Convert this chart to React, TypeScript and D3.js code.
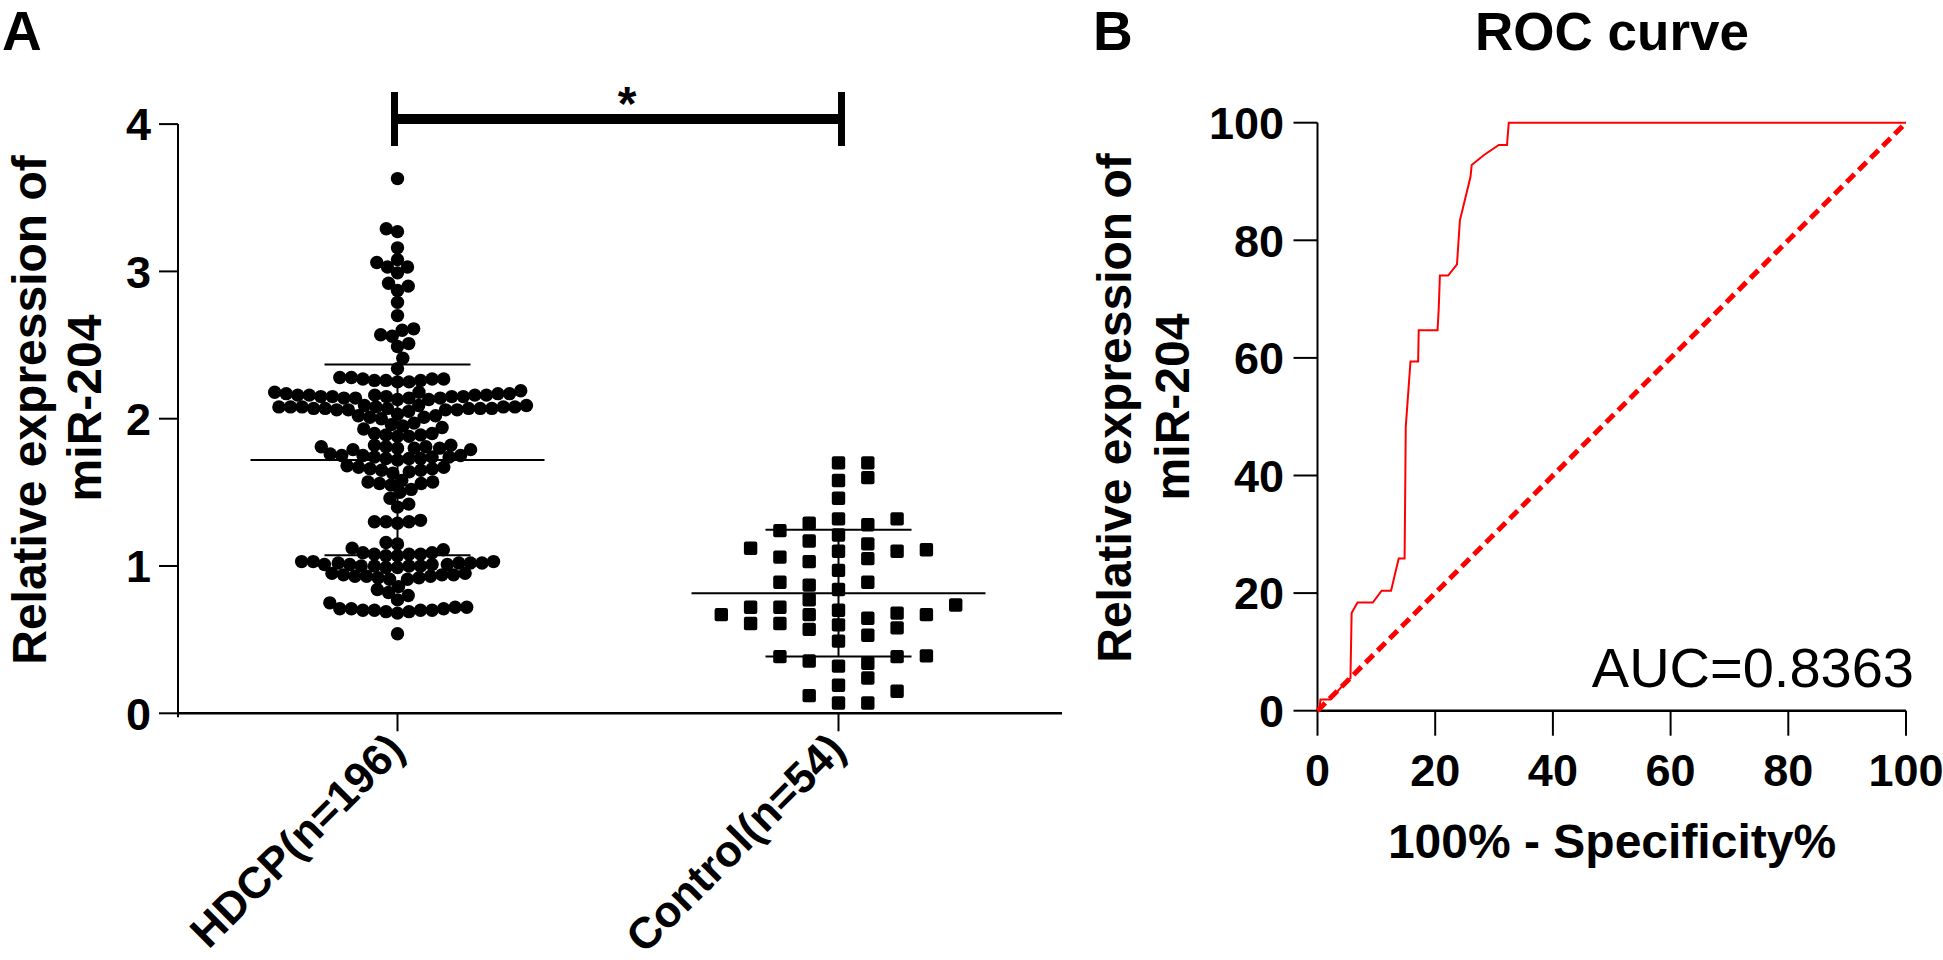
import React from 'react';
import * as d3 from 'd3';

// ---- data ----
const categories = ['HDCP(n=196)', 'Control(n=54)'];

const hdcpValues = [
  3.63, 3.29, 3.27, 3.16, 3.08, 3.06, 3.03, 3.03, 2.99, 2.92, 2.9, 2.87, 2.79, 2.7, 2.61, 2.6, 2.57, 2.56, 2.51, 2.49, 2.41, 2.34,
  2.28, 2.28, 2.27, 2.27, 2.27, 2.26, 2.26, 2.26, 2.25, 2.25,
  2.19, 2.18, 2.18, 2.17, 2.17, 2.17, 2.16, 2.16, 2.16, 2.16, 2.16, 2.15, 2.15, 2.15, 2.15, 2.15, 2.14, 2.14, 2.14, 2.14, 2.13, 2.13,
  2.09, 2.09, 2.09, 2.08, 2.08, 2.08, 2.08, 2.08, 2.08, 2.07, 2.07, 2.07, 2.07, 2.07, 2.07, 2.06, 2.06, 2.06, 2.06, 2.05,
  2.03, 2.02, 2.02, 2.01, 2.01, 2.0,
  1.97, 1.96, 1.95, 1.94, 1.93,
  1.9, 1.9, 1.89, 1.89, 1.88, 1.88,
  1.82, 1.82, 1.81, 1.81, 1.81, 1.8, 1.8, 1.8, 1.79, 1.79,
  1.76, 1.75, 1.75, 1.75, 1.74, 1.74, 1.74, 1.73, 1.73, 1.73, 1.72,
  1.68, 1.67, 1.67, 1.66, 1.66, 1.65, 1.65, 1.64, 1.63,
  1.58, 1.57, 1.57, 1.56, 1.56, 1.55,
  1.52, 1.5, 1.46, 1.42, 1.4,
  1.31, 1.3, 1.3, 1.3, 1.29,
  1.16, 1.15, 1.12, 1.11,
  1.09, 1.09, 1.08, 1.08, 1.08, 1.07, 1.07,
  1.03, 1.03, 1.03, 1.02, 1.02, 1.02, 1.02, 1.01, 1.01, 1.01, 1.01, 1.0, 1.0, 1.0, 1.0, 0.99, 0.99,
  0.95, 0.95, 0.94, 0.94, 0.94, 0.93, 0.93, 0.93, 0.92, 0.92, 0.91, 0.91,
  0.86, 0.84, 0.82, 0.8, 0.77, 0.75,
  0.72, 0.72, 0.71, 0.71, 0.71, 0.7, 0.7, 0.7, 0.7, 0.69, 0.69, 0.68,
  0.54,
];

const controlValues = [
  1.7, 1.7, 1.58, 1.6, 1.46, 1.32, 1.32, 1.24, 1.29, 1.21,
  1.28, 1.17, 1.12, 1.11, 1.15, 1.1, 1.06, 1.1, 1.05, 1.03,
  0.97, 0.89, 0.89, 0.87, 0.84, 0.77, 0.735, 0.72, 0.7, 0.72,
  0.68, 0.67, 0.67, 0.67, 0.61, 0.6, 0.645, 0.58, 0.57, 0.61,
  0.53, 0.49, 0.39, 0.385, 0.355, 0.385, 0.34, 0.32, 0.24, 0.15,
  0.19, 0.12, 0.07, 0.07,
];

const yTicksA = [0, 1, 2, 3, 4];

// ROC curve (100% - specificity, sensitivity)
const rocFpr = [0, 0.3, 0.5, 2.2, 5.1, 5.6, 5.8, 6.8, 9.4, 10.9, 12.5, 13.8, 14.8, 15.0, 15.8, 17.1, 17.2, 20.4, 20.6, 20.8, 22.2, 23.7, 24.2, 26.0, 26.2, 28.3, 30.8, 32.2, 32.5, 100];
const rocTpr = [0, 0, 1.9, 1.9, 5.2, 5.5, 16.6, 18.4, 18.4, 20.4, 20.4, 25.9, 25.9, 48.3, 59.4, 59.4, 64.7, 64.7, 68.4, 74, 74, 75.9, 83.4, 90.8, 92.8, 94.5, 96.2, 96.2, 100, 100];
const rocTicks = [0, 20, 40, 60, 80, 100];
const aucLabel = 'AUC=0.8363';

const FONT = '"Liberation Sans", Arial, sans-serif';

// simple beeswarm for circles: nearest-to-centre free slot
function swarmCircles(ys: number[], d: number) {
  const order = ys.map((y, i) => ({ y, i })).sort((a, b) => b.y - a.y);
  const placed: { x: number; y: number }[] = [];
  const xs = new Array(ys.length).fill(0);
  order.forEach((p, k) => {
    const cands = [0];
    placed.forEach((q) => {
      const dy = Math.abs(q.y - p.y);
      if (dy < d) {
        const dx = Math.sqrt(d * d - dy * dy);
        cands.push(q.x + dx, q.x - dx);
      }
    });
    const side = k % 2 ? 1 : -1;
    cands.sort((a, b) => Math.abs(a) - Math.abs(b) || (b * side) - (a * side));
    let x = 0;
    for (const c of cands) {
      if (placed.every((q) => (q.x - c) ** 2 + (q.y - p.y) ** 2 >= d * d - 0.01)) {
        x = c;
        break;
      }
    }
    placed.push({ x, y: p.y });
    xs[p.i] = x;
  });
  return xs;
}

// beeswarm for squares with a rectangular exclusion box
function swarmSquares(ys: number[], w: number, h: number) {
  const order = ys.map((y, i) => ({ y, i })).sort((a, b) => b.y - a.y);
  const placed: { x: number; y: number }[] = [];
  const xs = new Array(ys.length).fill(0);
  order.forEach((p, k) => {
    const cands = [0];
    placed.forEach((q) => {
      if (Math.abs(q.y - p.y) < h) cands.push(q.x + w, q.x - w);
    });
    const side = k % 2 ? 1 : -1;
    cands.sort((a, b) => Math.abs(a) - Math.abs(b) || (b * side) - (a * side));
    let x = 0;
    for (const c of cands) {
      if (placed.every((q) => !(Math.abs(q.x - c) < w - 0.01 && Math.abs(q.y - p.y) < h))) {
        x = c;
        break;
      }
    }
    placed.push({ x, y: p.y });
    xs[p.i] = x;
  });
  return xs;
}

const App: React.FC = () => {
  // ---- panel A ----
  const yA = d3.scaleLinear().domain([0, 4]).range([713.3, 124.1]);
  const xA = d3.scalePoint<string>().domain(categories).range([397.5, 838.5]);
  const axisLeftA = 178;

  const hdcpY = hdcpValues.map((v) => yA(v));
  const hdcpX = swarmCircles(hdcpY, 11.6);
  const ctrlY = controlValues.map((v) => yA(v));
  const ctrlX = swarmSquares(ctrlY, 29.3, 13.5);

  const groups = [hdcpValues, controlValues].map((vals, i) => {
    const m = d3.mean(vals) as number;
    const sd = d3.deviation(vals) as number;
    return { cx: xA(categories[i]) as number, m, sd };
  });

  // ---- panel B ----
  const xB = d3.scaleLinear().domain([0, 100]).range([1317.5, 1906]);
  const yB = d3.scaleLinear().domain([0, 100]).range([710.7, 122.7]);
  const rocLine = d3
    .line<number>()
    .x((_, i) => xB(rocFpr[i]))
    .y((_, i) => yB(rocTpr[i]));

  const tickFont = { fontFamily: FONT, fontWeight: 700, fontSize: 45 } as const;

  return (
    <svg
      width={1943}
      height={960}
      style={{ position: 'absolute', left: 0, top: 0, background: '#fff' }}
    >
      <rect width={1943} height={960} fill="#fff" />

      {/* panel letters */}
      <text x={2} y={50} fontFamily={FONT} fontWeight={700} fontSize={55}>A</text>
      <text x={1093} y={50} fontFamily={FONT} fontWeight={700} fontSize={55}>B</text>

      {/* ===== Panel A ===== */}
      <g>
        <text
          transform={`translate(46,410) rotate(-90)`}
          textAnchor="middle"
          fontFamily={FONT}
          fontWeight={700}
          fontSize={48}
        >
          Relative expression of
        </text>
        <text
          transform={`translate(101,408) rotate(-90)`}
          textAnchor="middle"
          fontFamily={FONT}
          fontWeight={700}
          fontSize={48}
        >
          miR-204
        </text>

        {/* y axis */}
        <line x1={axisLeftA} x2={axisLeftA} y1={yA(4)} y2={yA(0) + 4} stroke="#000" strokeWidth={2} />
        {yTicksA.map((t) => (
          <g key={t}>
            <line x1={axisLeftA - 19} x2={axisLeftA} y1={yA(t)} y2={yA(t)} stroke="#000" strokeWidth={2} />
            <text x={151} y={yA(t)} dy="0.36em" textAnchor="end" {...tickFont}>
              {t}
            </text>
          </g>
        ))}

        {/* x axis */}
        <line x1={axisLeftA} x2={1062} y1={yA(0)} y2={yA(0)} stroke="#000" strokeWidth={2.5} />
        {categories.map((c) => (
          <g key={c}>
            <line x1={xA(c)} x2={xA(c)} y1={yA(0)} y2={yA(0) + 18} stroke="#000" strokeWidth={2} />
            <text
              transform={`translate(${(xA(c) as number) + 9},752) rotate(-45)`}
              textAnchor="end"
              {...tickFont}
              fontSize={44}
            >
              {c}
            </text>
          </g>
        ))}

        {/* points */}
        {hdcpValues.map((v, i) => (
          <circle key={'h' + i} cx={(xA(categories[0]) as number) + hdcpX[i]} cy={hdcpY[i]} r={6.7} fill="#000" />
        ))}
        {controlValues.map((v, i) => (
          <rect
            key={'c' + i}
            x={(xA(categories[1]) as number) + ctrlX[i] - 6.7}
            y={ctrlY[i] - 6.7}
            width={13.4}
            height={13.4}
            rx={2}
            fill="#000"
          />
        ))}

        {/* mean +/- SD */}
        {groups.map((g, i) => (
          <g key={'g' + i} stroke="#000" strokeWidth={2}>
            <line x1={g.cx - 147} x2={g.cx + 147} y1={yA(g.m)} y2={yA(g.m)} />
            <line x1={g.cx - 73} x2={g.cx + 73} y1={yA(g.m + g.sd)} y2={yA(g.m + g.sd)} />
            <line x1={g.cx - 73} x2={g.cx + 73} y1={yA(g.m - g.sd)} y2={yA(g.m - g.sd)} />
            <line x1={g.cx} x2={g.cx} y1={yA(g.m + g.sd)} y2={yA(g.m - g.sd)} />
          </g>
        ))}

        {/* significance bracket */}
        <g stroke="#000">
          <line x1={(xA(categories[0]) as number) - 3} x2={(xA(categories[1]) as number) + 3} y1={119} y2={119} strokeWidth={10} />
          <line x1={(xA(categories[0]) as number) - 3} x2={(xA(categories[0]) as number) - 3} y1={92} y2={146} strokeWidth={7} />
          <line x1={(xA(categories[1]) as number) + 3} x2={(xA(categories[1]) as number) + 3} y1={92} y2={146} strokeWidth={7} />
        </g>
        <text x={627} y={120} textAnchor="middle" fontFamily={FONT} fontWeight={700} fontSize={48}>*</text>
      </g>

      {/* ===== Panel B ===== */}
      <g>
        <text x={1612} y={50} textAnchor="middle" fontFamily={FONT} fontWeight={700} fontSize={53}>
          ROC curve
        </text>
        <text
          transform={`translate(1131,408) rotate(-90)`}
          textAnchor="middle"
          fontFamily={FONT}
          fontWeight={700}
          fontSize={48}
        >
          Relative expression of
        </text>
        <text
          transform={`translate(1189,407) rotate(-90)`}
          textAnchor="middle"
          fontFamily={FONT}
          fontWeight={700}
          fontSize={48}
        >
          miR-204
        </text>

        {/* y axis */}
        <line x1={xB(0)} x2={xB(0)} y1={yB(100)} y2={yB(0)} stroke="#000" strokeWidth={2} />
        {rocTicks.map((t) => (
          <g key={'yb' + t}>
            <line x1={xB(0) - 24} x2={xB(0)} y1={yB(t)} y2={yB(t)} stroke="#000" strokeWidth={2} />
            <text x={1284} y={yB(t)} dy="0.36em" textAnchor="end" {...tickFont}>
              {t}
            </text>
          </g>
        ))}
        {/* x axis */}
        <line x1={xB(0)} x2={xB(100)} y1={yB(0)} y2={yB(0)} stroke="#000" strokeWidth={2.5} />
        {rocTicks.map((t) => (
          <g key={'xb' + t}>
            <line x1={xB(t)} x2={xB(t)} y1={yB(0)} y2={yB(0) + 25} stroke="#000" strokeWidth={2} />
            <text x={xB(t)} y={786} textAnchor="middle" {...tickFont}>
              {t}
            </text>
          </g>
        ))}
        <text x={1612} y={858} textAnchor="middle" fontFamily={FONT} fontWeight={700} fontSize={48}>
          100% - Specificity%
        </text>

        {/* reference diagonal */}
        <line
          x1={xB(0)}
          y1={yB(0)}
          x2={xB(100)}
          y2={yB(100)}
          stroke="#ff0000"
          strokeWidth={5}
          strokeDasharray="11 6"
        />
        {/* ROC */}
        <path d={rocLine(rocFpr) || ''} fill="none" stroke="#ff0000" strokeWidth={2} />

        <text x={1914} y={687} textAnchor="end" fontFamily={FONT} fontWeight={400} fontSize={56}>
          {aucLabel}
        </text>
      </g>
    </svg>
  );
};

export default App;
